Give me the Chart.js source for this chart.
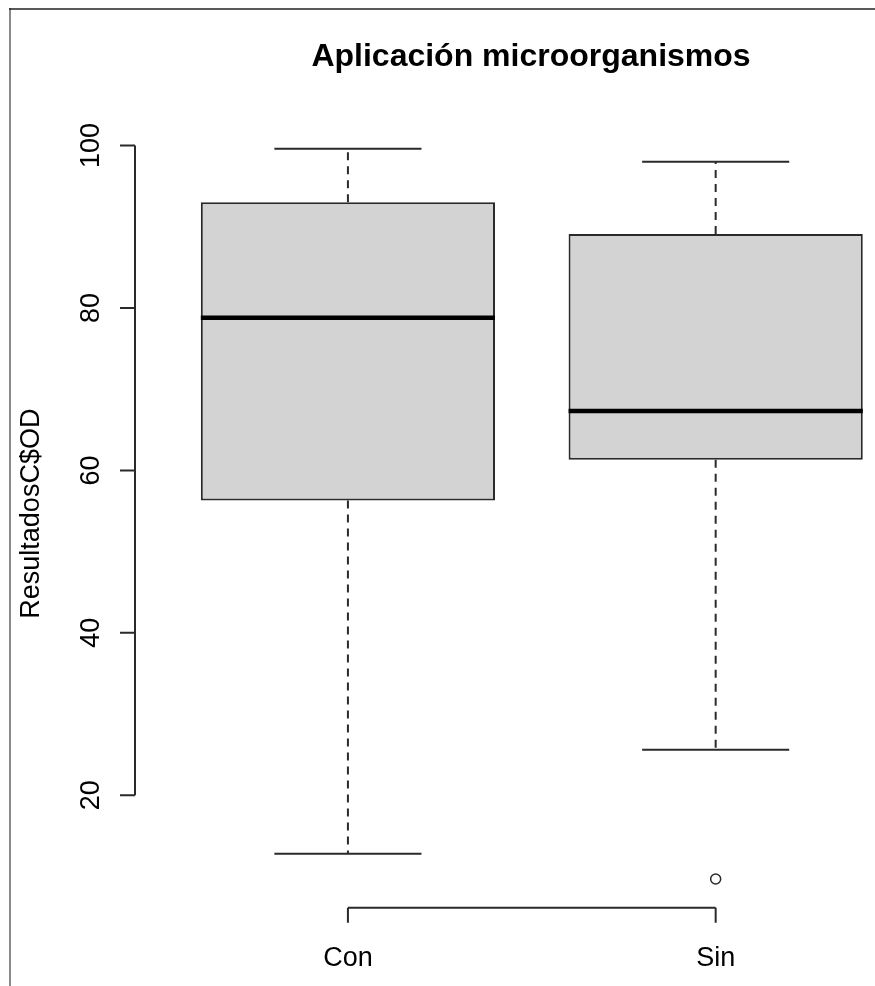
<!DOCTYPE html>
<html>
<head>
<meta charset="utf-8">
<title>Aplicación microorganismos</title>
<script src="https://cdn.jsdelivr.net/npm/chart.js@4.4.0/dist/chart.umd.min.js"></script>
<style>
  html, body { margin: 0; padding: 0; background: #fff; overflow: hidden; }
  #wrap { width: 875px; height: 986px; }
</style>
</head>
<body>
<div id="wrap"><canvas id="boxChart" width="875" height="986"></canvas></div>
<script>
// boxplot statistics
const groups = ["Con", "Sin"];
const minVals = [12.8, 25.6];
const q1Vals = [56.3, 61.3];
const medianVals = [78.8, 67.3];
const q3Vals = [93.0, 89.1];
const maxVals = [99.6, 98.0];
const outlierVals = [[], [9.7]];
const yTicks = [20, 40, 60, 80, 100];

const lineColor = "#2a2a2a";
const font = "Liberation Sans, Arial, sans-serif";

// build the line segments, null y breaks the line between pieces
const whiskers = [], caps = [], medians = [], outliers = [];
groups.forEach((g, i) => {
    const x = i + 1;
    whiskers.push({x: x, y: q3Vals[i]}, {x: x, y: maxVals[i]}, {x: x, y: null},
                  {x: x, y: q1Vals[i]}, {x: x, y: minVals[i]}, {x: x, y: null});
    caps.push({x: x - 0.2, y: maxVals[i]}, {x: x + 0.2, y: maxVals[i]}, {x: x, y: null},
              {x: x - 0.2, y: minVals[i]}, {x: x + 0.2, y: minVals[i]}, {x: x, y: null});
    medians.push({x: x - 0.4, y: medianVals[i]}, {x: x + 0.4, y: medianVals[i]}, {x: x, y: null});
    outlierVals[i].forEach(v => outliers.push({x: x, y: v}));
});

//R style axes, frame and titles
const rStyle = {
    id: "rStyle",
    beforeDraw(chart) {
        const ctx = chart.ctx;
        ctx.save();
        ctx.fillStyle = "#fff";
        ctx.fillRect(0, 0, chart.width, chart.height);
        ctx.strokeStyle = "#8a8a8a";
        ctx.lineWidth = 2;
        ctx.beginPath();
        ctx.moveTo(10, 8); ctx.lineTo(10, chart.height);
        ctx.stroke();
        ctx.strokeStyle = "#222";
        ctx.lineWidth = 1.5;
        ctx.beginPath();
        ctx.moveTo(9, 9); ctx.lineTo(chart.width, 9);
        ctx.stroke();
        ctx.restore();
    },
    afterDraw(chart) {
        const {ctx, chartArea} = chart;
        const xs = chart.scales.x, ys = chart.scales.y;
        ctx.save();
        ctx.strokeStyle = lineColor;
        ctx.lineWidth = 2;
        ctx.fillStyle = "#000";

        // y axis
        const left = chartArea.left;
        const yt = ys.ticks;
        ctx.beginPath();
        ctx.moveTo(left, ys.getPixelForValue(yt[0].value));
        ctx.lineTo(left, ys.getPixelForValue(yt[yt.length - 1].value));
        yt.forEach(t => {
            const py = ys.getPixelForValue(t.value);
            ctx.moveTo(left - 15, py);
            ctx.lineTo(left, py);
        });
        ctx.stroke();
        ctx.font = "27px " + font;
        ctx.textAlign = "center";
        ctx.textBaseline = "alphabetic";
        yt.forEach(t => {
            ctx.save();
            ctx.translate(99, ys.getPixelForValue(t.value));
            ctx.rotate(-Math.PI / 2);
            ctx.fillText(String(t.value), 0, 0);
            ctx.restore();
        });

        // x axis
        const bottom = chartArea.bottom;
        const xt = xs.ticks;
        ctx.beginPath();
        ctx.moveTo(xs.getPixelForValue(xt[0].value), bottom);
        ctx.lineTo(xs.getPixelForValue(xt[xt.length - 1].value), bottom);
        xt.forEach(t => {
            const px = xs.getPixelForValue(t.value);
            ctx.moveTo(px, bottom);
            ctx.lineTo(px, bottom + 15);
        });
        ctx.stroke();
        xt.forEach((t, i) => {
            ctx.fillText(groups[i], xs.getPixelForValue(t.value), 966);
        });

        // y axis title
        ctx.save();
        ctx.translate(39, (chartArea.top + chartArea.bottom) / 2);
        ctx.rotate(-Math.PI / 2);
        ctx.fillText("ResultadosC$OD", 0, 0);
        ctx.restore();

        // main title
        ctx.font = "bold 32px " + font;
        ctx.fillText("Aplicación microorganismos", 531, 66);
        ctx.restore();
    }
};

new Chart(document.getElementById("boxChart"), {
    type: "bar",
    data: {
        datasets: [
            {
                type: "line",
                data: whiskers,
                borderColor: lineColor,
                borderWidth: 2,
                borderDash: [8, 6],
                pointRadius: 0,
                spanGaps: false,
                fill: false,
                order: 3
            },
            {
                type: "bar",
                data: groups.map((g, i) => ({x: i + 1, y: [q1Vals[i], q3Vals[i]]})),
                backgroundColor: "#d3d3d3",
                borderColor: lineColor,
                borderWidth: 2,
                borderSkipped: false,
                barPercentage: 0.8,
                categoryPercentage: 1,
                order: 2
            },
            {
                type: "line",
                data: medians,
                borderColor: "#000",
                borderWidth: 4.5,
                pointRadius: 0,
                spanGaps: false,
                fill: false,
                order: 1
            },
            {
                type: "line",
                data: caps,
                borderColor: lineColor,
                borderWidth: 2,
                pointRadius: 0,
                spanGaps: false,
                fill: false,
                order: 1
            },
            {
                type: "scatter",
                data: outliers,
                pointRadius: 5,
                pointStyle: "circle",
                backgroundColor: "rgba(0,0,0,0)",
                borderColor: lineColor,
                borderWidth: 1.5,
                order: 0
            }
        ]
    },
    options: {
        responsive: false,
        animation: false,
        devicePixelRatio: 1,
        layout: { padding: { left: 135, top: 119.5, right: 0, bottom: 78.2 } },
        plugins: { legend: { display: false }, tooltip: { enabled: false }, title: { display: false } },
        scales: {
            x: {
                type: "linear",
                min: 0.421,
                max: 2.4156,
                offset: false,
                display: false,
                afterBuildTicks: scale => { scale.ticks = groups.map((g, i) => ({value: i + 1})); }
            },
            y: {
                type: "linear",
                min: 6.15,
                max: 103.2,
                display: false,
                afterBuildTicks: scale => { scale.ticks = yTicks.map(v => ({value: v})); }
            }
        }
    },
    plugins: [rStyle]
});
</script>
</body>
</html>
